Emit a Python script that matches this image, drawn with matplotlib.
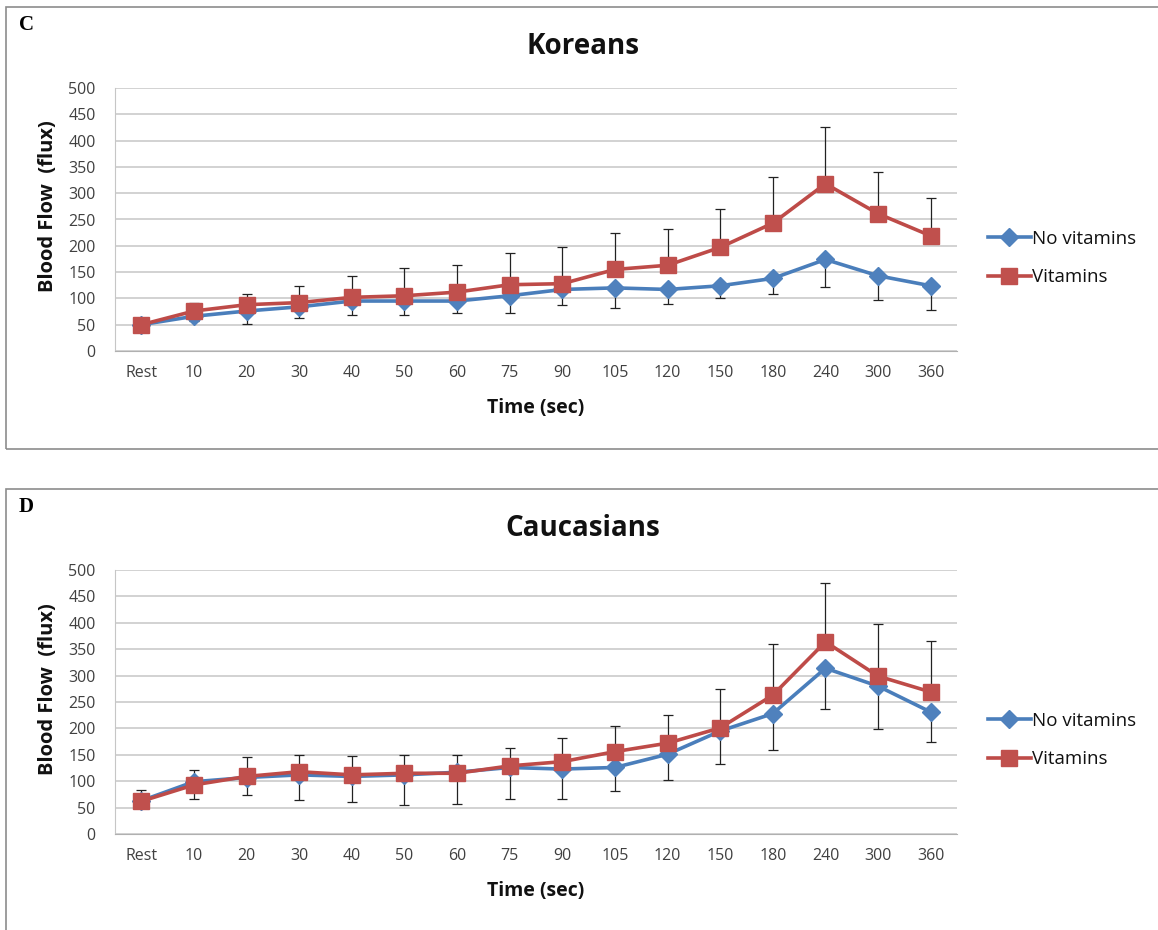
import matplotlib.pyplot as plt
from matplotlib.patches import Rectangle
import numpy as np

times = ['Rest', '10', '20', '30', '40', '50', '60', '75', '90',
         '105', '120', '150', '180', '240', '300', '360']

# Koreans
kor_novit = [50, 66, 76, 84, 95, 95, 95, 105, 117, 120, 117, 124, 138, 174, 143, 124]
kor_novit_low = [50, 57, 51, 63, 69, 69, 73, 73, 88, 82, 90, 101, 109, 122, 97, 77]
kor_vit = [50, 76, 88, 92, 102, 105, 112, 126, 128, 155, 163, 197, 243, 318, 261, 219]
kor_vit_high = [50, 92, 109, 123, 143, 158, 163, 186, 197, 225, 232, 270, 330, 425, 341, 290]

# Caucasians
cau_novit = [63, 99, 107, 112, 109, 112, 117, 126, 123, 126, 151, 195, 228, 314, 280, 231]
cau_novit_low = [63, 67, 73, 64, 60, 54, 57, 66, 66, 82, 102, 132, 159, 237, 198, 175]
cau_vit = [62, 93, 109, 118, 112, 115, 115, 129, 137, 156, 172, 201, 263, 364, 299, 269]
cau_vit_high = [84, 121, 145, 150, 147, 150, 150, 162, 181, 204, 225, 274, 360, 475, 398, 365]

W, H = 1158, 930
BLUE_LINE = '#4a7ebb'
BLUE_MK = '#4f81bd'
RED_LINE = '#be4b48'
RED_MK = '#c0504d'
GRID = '#c6c6c6'
TXT = '#404040'

plt.rcParams['font.family'] = ['Open Sans', 'DejaVu Sans']

fig = plt.figure(figsize=(W / 100, H / 100), dpi=100)


def fx(px):
    return px / W


def fy(py):
    return 1 - py / H


def draw_panel(top_y0, zero_y, title, letter, novit, novit_low, vit, vit_high, box_y0, box_y1):
    # outer box of the panel
    fig.patches.append(Rectangle((fx(6), fy(box_y1)), fx(1158), fy(box_y0) - fy(box_y1),
                                 transform=fig.transFigure, fill=False,
                                 edgecolor='#8c8c8c', lw=1.2))
    ax = fig.add_axes([fx(115), fy(zero_y), fx(957) - fx(115), fy(top_y0) - fy(zero_y)])
    x = np.arange(len(times))
    novit = np.array(novit)
    vit = np.array(vit)
    lo = novit - np.array(novit_low)
    hi = np.array(vit_high) - vit

    ax.errorbar(x, novit, yerr=[lo, np.zeros_like(lo)], fmt='none', ecolor='#222222',
                elinewidth=0.9, capsize=3.5, capthick=0.9, zorder=3)
    ax.errorbar(x, vit, yerr=[np.zeros_like(hi), hi], fmt='none', ecolor='#222222',
                elinewidth=0.9, capsize=3.5, capthick=0.9, zorder=3)
    ax.plot(x, novit, color=BLUE_LINE, lw=2.6, marker='D', ms=9.5,
            mfc=BLUE_MK, mec=BLUE_MK, label='No vitamins', zorder=4)
    ax.plot(x, vit, color=RED_LINE, lw=2.6, marker='s', ms=11,
            mfc=RED_MK, mec=RED_MK, label='Vitamins', zorder=5)

    ax.set_xlim(-0.5, len(times) - 0.5)
    ax.set_ylim(0, 500)
    ax.set_yticks(np.arange(0, 501, 50))
    ax.set_xticks(x)
    ax.set_xticklabels(times)
    ax.grid(axis='y', color=GRID, lw=1.1)
    ax.set_axisbelow(True)
    for s in ['top', 'right']:
        ax.spines[s].set_visible(False)
    ax.spines['left'].set_color(GRID)
    ax.spines['bottom'].set_color('#b0b0b0')
    ax.tick_params(length=0, labelsize=11.5, colors=TXT, pad=10)
    ax.tick_params(axis='y', pad=14)

    ax.set_xlabel('Time (sec)', fontsize=14, fontweight='bold', labelpad=12, color='#111111')
    fig.text(fx(48), fy(zero_y - 145), 'Blood Flow  (flux)', rotation=90, fontsize=14.5,
             fontweight='bold', ha='center', va='center', color='#111111')
    fig.text(fx(583), fy(top_y0 - 42), title, fontsize=20, fontweight='bold',
             ha='center', va='center', color='#111111')
    fig.text(fx(19), fy(box_y0 + 18), letter, fontsize=15, fontweight='bold',
             family='Liberation Serif', ha='left', va='center')

    ax.legend(loc='upper left', bbox_to_anchor=(fx(980), fy(top_y0 + 134)),
              bbox_transform=fig.transFigure, frameon=False, fontsize=13.5,
              handlelength=2.3, handletextpad=0.1, labelspacing=1.1,
              labelcolor='#111111', borderaxespad=0)
    return ax


draw_panel(88, 351, 'Koreans', 'C', kor_novit, kor_novit_low, kor_vit, kor_vit_high, 7, 449)
draw_panel(570, 834, 'Caucasians', 'D', cau_novit, cau_novit_low, cau_vit, cau_vit_high, 489, 935)

fig.savefig('out.png', dpi=100)
